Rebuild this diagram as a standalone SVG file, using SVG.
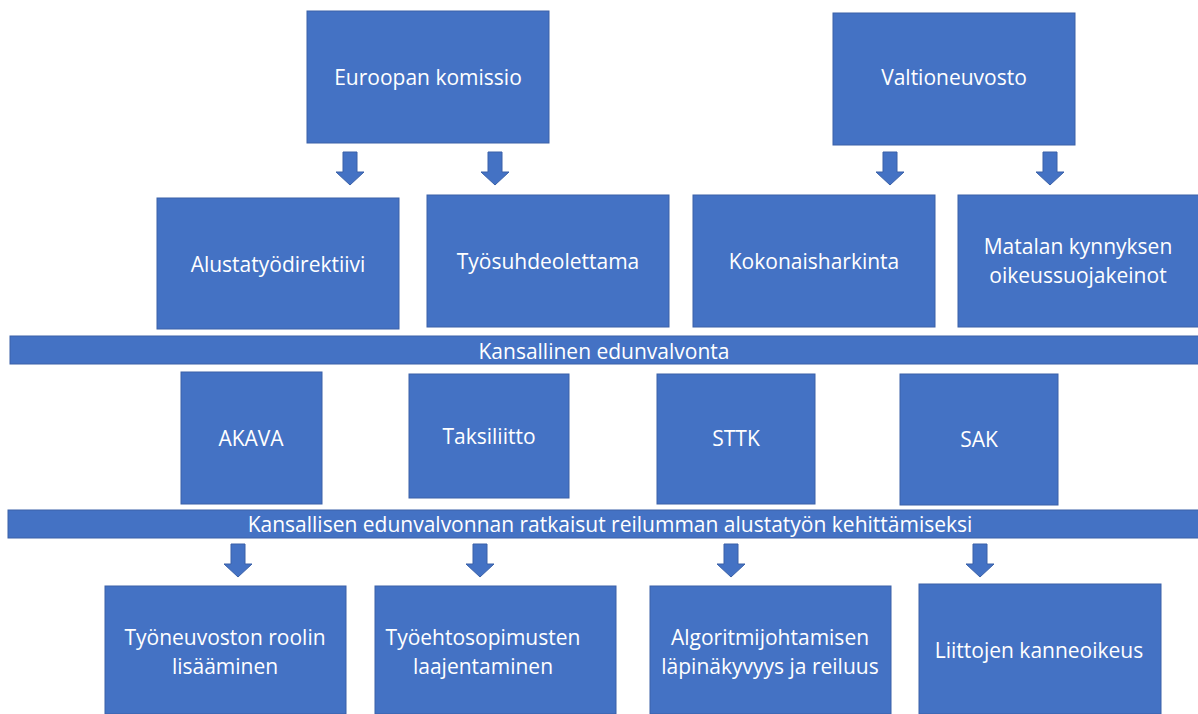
<svg xmlns="http://www.w3.org/2000/svg" xmlns:xlink="http://www.w3.org/1999/xlink" width="1198" height="714" viewBox="0 0 1198 714">
<style>
.box{fill:#4472C4;stroke:#3A61A8;stroke-width:1}
.t{fill:#ffffff;font-family:"Open Sans","Liberation Sans",sans-serif;font-size:21px;text-anchor:middle}
.arr{fill:#4472C4;stroke:#3A61A8;stroke-width:1}
</style>
<defs>
<path id="a" d="M-7,0 h14 v20 h7 l-14,13 l-14,-13 h7 z"/>
</defs>
<rect width="1198" height="714" fill="#ffffff"/>
<g id="euroopan-komissio"><rect class="box" x="307" y="11" width="242" height="132"/><text class="t" x="428" y="85">Euroopan komissio</text></g>
<g id="valtioneuvosto"><rect class="box" x="833" y="13" width="242" height="132"/><text class="t" x="954" y="85">Valtioneuvosto</text></g>
<g id="alustatyodirektiivi"><rect class="box" x="157" y="198" width="242" height="131"/><text class="t" x="278" y="272">Alustatyödirektiivi</text></g>
<g id="tyosuhdeolettama"><rect class="box" x="427" y="195" width="242" height="132"/><text class="t" x="548" y="269">Työsuhdeolettama</text></g>
<g id="kokonaisharkinta"><rect class="box" x="693" y="195" width="242" height="132"/><text class="t" x="814" y="269">Kokonaisharkinta</text></g>
<g id="matalan"><rect class="box" x="958" y="195" width="241" height="132"/><text class="t" x="1078" y="254">Matalan kynnyksen</text><text class="t" x="1078" y="283">oikeussuojakeinot</text></g>
<g id="kansallinen-edunvalvonta"><rect class="box" x="10" y="336" width="1189" height="28"/><text class="t" x="604" y="359">Kansallinen edunvalvonta</text></g>
<g id="akava"><rect class="box" x="181" y="372" width="141" height="132"/><text class="t" x="251" y="446">AKAVA</text></g>
<g id="taksiliitto"><rect class="box" x="409" y="374" width="160" height="124"/><text class="t" x="489" y="444">Taksiliitto</text></g>
<g id="sttk"><rect class="box" x="657" y="374" width="158" height="130"/><text class="t" x="736" y="446">STTK</text></g>
<g id="sak"><rect class="box" x="900" y="374" width="158" height="131"/><text class="t" x="979" y="447">SAK</text></g>
<g id="ratkaisut"><rect class="box" x="8" y="510" width="1191" height="28"/><text class="t" x="610" y="532">Kansallisen edunvalvonnan ratkaisut reilumman alustatyön kehittämiseksi</text></g>
<g id="tyoneuvosto"><rect class="box" x="105" y="586" width="241" height="128"/><text class="t" x="225" y="645">Työneuvoston roolin</text><text class="t" x="225" y="674">lisääminen</text></g>
<g id="tyoehtosopimukset"><rect class="box" x="375" y="586" width="241" height="128"/><text class="t" x="483" y="645">Työehtosopimusten</text><text class="t" x="483" y="674">laajentaminen</text></g>
<g id="algoritmijohtaminen"><rect class="box" x="650" y="586" width="241" height="128"/><text class="t" x="770" y="645">Algoritmijohtamisen</text><text class="t" x="770" y="674">läpinäkyvyys ja reiluus</text></g>
<g id="liittojen-kanneoikeus"><rect class="box" x="919" y="584" width="242" height="130"/><text class="t" x="1039" y="658">Liittojen kanneoikeus</text></g>
<g id="connectors">
<use href="#a" xlink:href="#a" class="arr" x="350" y="152"/>
<use href="#a" xlink:href="#a" class="arr" x="495" y="152"/>
<use href="#a" xlink:href="#a" class="arr" x="890" y="152"/>
<use href="#a" xlink:href="#a" class="arr" x="1050" y="152"/>
<use href="#a" xlink:href="#a" class="arr" x="238" y="544"/>
<use href="#a" xlink:href="#a" class="arr" x="480" y="544"/>
<use href="#a" xlink:href="#a" class="arr" x="731" y="544"/>
<use href="#a" xlink:href="#a" class="arr" x="980" y="544"/>
</g>
</svg>
